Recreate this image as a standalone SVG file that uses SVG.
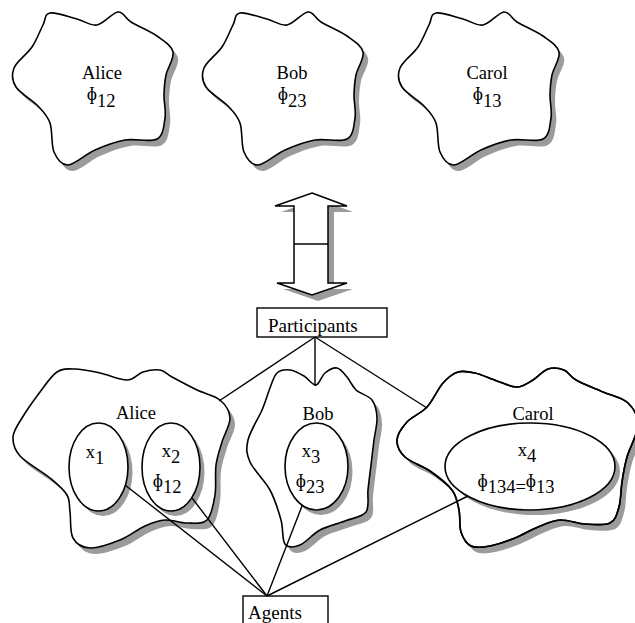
<svg xmlns="http://www.w3.org/2000/svg" width="635" height="623" viewBox="0 0 635 623">
<style>
.sh{fill:#9b9b9b;stroke:none}
.bl{fill:#fff;stroke:#000;stroke-width:1.6}
.ln{stroke:#000;stroke-width:1.4;fill:none}
.ol{fill:none;stroke:#000;stroke-width:1.6}
.box{fill:#fff;stroke:#000;stroke-width:1.4}
text{font-family:"Liberation Serif","Times New Roman",serif;font-size:18.5px;fill:#000}
.c{text-anchor:middle}
.lb{font-size:19px}
</style>
<defs>
<path id="topblob" d="M50,13 C55.7,12 69.2,17 77,19 S90.2,26.2 97,25 S112.3,12.5 118,12 S124.5,18 131,22 S150,31 157,36 S171.5,45.5 173,52 S167.5,67.8 166,75 S164.2,87.8 164,95 S166.2,110.7 165,118 S163.7,135.3 157,139 S135.3,138.2 125,140 S104.5,145.8 95,150 S74.8,164.7 68,165 S57,159 54,152 S52.7,130.7 50,123 S43.7,112 38,106 S20,93.3 16,87 S11.3,74.7 14,68 S27.2,54.2 32,47 S40,30.7 43,25 S44.3,14 50,13 Z"/>
<path id="aliceB" d="M57,372 C62.8,368.2 67.8,368.8 75,369 S91.3,371.2 100,373 S119.8,380.2 127,380 S137.5,373.7 143,372 S155.2,369.2 160,370 S165.8,373.7 172,377 S189,386.2 197,390 S214.5,395.3 220,400 S229.7,411 230,418 S224.3,434.2 222,442 S217.2,456.2 216,465 S216.5,485.8 215,495 S211.7,515.3 207,520 S194,523 187,523 S172,519.5 165,520 S152.5,522.7 145,526 S129.2,536.3 120,540 S97.8,548.3 90,548 S76.3,544 73,538 S71,519.2 70,512 S70.3,500.7 67,495 S57.8,484.5 50,478 S26.2,462.8 20,456 S12.7,443.3 13,437 S17.5,425.5 22,418 S34.2,399.7 40,392 S51.2,375.8 57,372 Z"/>
<path id="bobB" d="M277,373 C280.3,370 285.5,369.5 290,370 S299.7,373.5 304,376 S312.5,385.5 316,385 S321.5,375.8 325,373 S333.3,367.3 337,368 S343.8,373.3 347,377 S351.8,386.2 356,390 S368.5,395.3 372,400 S376.7,411.3 377,418 S375,432.2 374,440 S372,456.7 371,465 S368.8,482.2 368,490 S369.8,506.8 366,512 S352.7,518 345,521 S327.5,526 320,530 S305.8,542.7 300,545 S288.2,548.2 285,544 S283.5,529 281,520 S275.2,499.7 270,490 S253.7,470.3 250,462 S246,448.7 248,440 S258.3,418.7 262,410 S267.5,394.2 270,388 S273.7,376 277,373 Z"/>
<path id="carolB" d="M427,407 C433,400.5 437.8,388.8 443,383 S452.7,373.7 458,372 S468.5,371.5 475,373 S490,378.7 497,381 S511,387.2 517,387 S527.8,383 533,380 S542.8,370.7 548,369 S559.3,368.2 564,370 S569.5,376.3 576,380 S594.3,388.2 603,392 S622.2,397.5 628,403 S638.2,416 638,425 S629.7,447.5 627,457 S623.3,473.7 622,482 S621,500.2 619,507 S615.7,520.2 610,523 S593.3,524.5 585,524 S567.8,519.5 560,520 S545.5,524 538,527 S523,534.8 515,538 S497.3,544.7 490,546 S475.8,548.3 471,546 S463,538 461,532 S460.5,517 459,510 S456.8,496.5 452,490 S437.8,476.5 430,471 S410.5,462.2 405,457 S396.7,445.8 397,440 S402,427.5 407,422 S421,413.5 427,407 Z"/>
<path id="arrow" d="M312,193 L347,206 L328,206 L328,283 L347,283 L312,295 L277,283 L294,283 L294,206 L275,206 Z"/>
</defs>

<g id="alice-top">
<use href="#topblob" class="sh" transform="translate(5,6)"/>
<use href="#topblob" class="bl"/>
<text class="c" x="102" y="79">Alice</text>
<text class="c" x="101" y="100">ɸ<tspan dy="7">12</tspan></text>
</g>
<g id="bob-top" transform="translate(190,0)">
<use href="#topblob" class="sh" transform="translate(5,6)"/>
<use href="#topblob" class="bl"/>
<text class="c" x="102" y="79">Bob</text>
<text class="c" x="102" y="100">ɸ<tspan dy="7">23</tspan></text>
</g>
<g id="carol-top" transform="translate(386,0)">
<use href="#topblob" class="sh" transform="translate(5,6)"/>
<use href="#topblob" class="bl"/>
<text class="c" x="101" y="79">Carol</text>
<text class="c" x="101" y="100">ɸ<tspan dy="7">13</tspan></text>
</g>

<g id="double-arrow">
<use href="#arrow" class="sh" transform="translate(6,6)"/>
<use href="#arrow" class="bl" style="stroke-width:1.5"/>
<path class="ln" d="M294,244 H328"/>
</g>

<g id="participants">
<rect class="box" x="257" y="308" width="130" height="29"/>
<text class="lb" x="268" y="332">Participants</text>
</g>

<g id="alice">
<use href="#aliceB" class="sh" transform="translate(5,6)"/>
<use href="#aliceB" class="bl"/>
<text class="c" x="136" y="419">Alice</text>
<g id="x1">
<ellipse class="sh" cx="103" cy="472" rx="29.5" ry="44"/>
<ellipse class="bl" cx="98.5" cy="467" rx="29.5" ry="44"/>
<text class="c" x="95" y="458">x<tspan dy="6">1</tspan></text>
</g>
<g id="x2">
<ellipse class="sh" cx="175.5" cy="472" rx="29" ry="44"/>
<ellipse class="bl" cx="171" cy="467" rx="29" ry="44"/>
<text class="c" x="171" y="457">x<tspan dy="6">2</tspan></text>
<text class="c" x="167" y="487">ɸ<tspan dy="6">12</tspan></text>
</g>
</g>

<g id="bob">
<use href="#bobB" class="sh" transform="translate(5,6)"/>
<use href="#bobB" class="bl"/>
<text class="c" x="318" y="420">Bob</text>
<g id="x3">
<ellipse class="sh" cx="321" cy="471.5" rx="31.5" ry="43.5"/>
<ellipse class="bl" cx="316.5" cy="466.5" rx="31.5" ry="43.5"/>
<text class="c" x="311" y="457">x<tspan dy="6">3</tspan></text>
<text class="c" x="310" y="487">ɸ<tspan dy="6">23</tspan></text>
</g>
</g>

<g id="carol">
<use href="#carolB" class="sh" transform="translate(5,6)"/>
<use href="#carolB" class="bl"/>
<text class="c" x="533" y="420">Carol</text>
<g id="x4">
<ellipse class="sh" cx="535" cy="471.5" rx="85" ry="43.5"/>
<ellipse class="bl" cx="530" cy="466.5" rx="85" ry="43.5"/>
<use href="#carolB" class="ol"/>
<text class="c" x="527" y="456">x<tspan dy="6">4</tspan></text>
<text class="c" x="516" y="487">ɸ<tspan dy="6">134=</tspan><tspan dy="-6">ɸ</tspan><tspan dy="6">13</tspan></text>
</g>
</g>

<g id="agents">
<rect class="box" x="243" y="596" width="85" height="40"/>
<text class="lb" x="248" y="619">Agents</text>
</g>

<g id="connectors" class="ln">
<line x1="315" y1="337" x2="219" y2="401"/>
<line x1="315" y1="337" x2="315" y2="386"/>
<line x1="315" y1="337" x2="427" y2="408"/>
<line x1="267" y1="596" x2="125" y2="485"/>
<line x1="267" y1="596" x2="192" y2="498"/>
<line x1="267" y1="596" x2="302" y2="506"/>
<line x1="267" y1="596" x2="468" y2="496"/>
</g>
</svg>
